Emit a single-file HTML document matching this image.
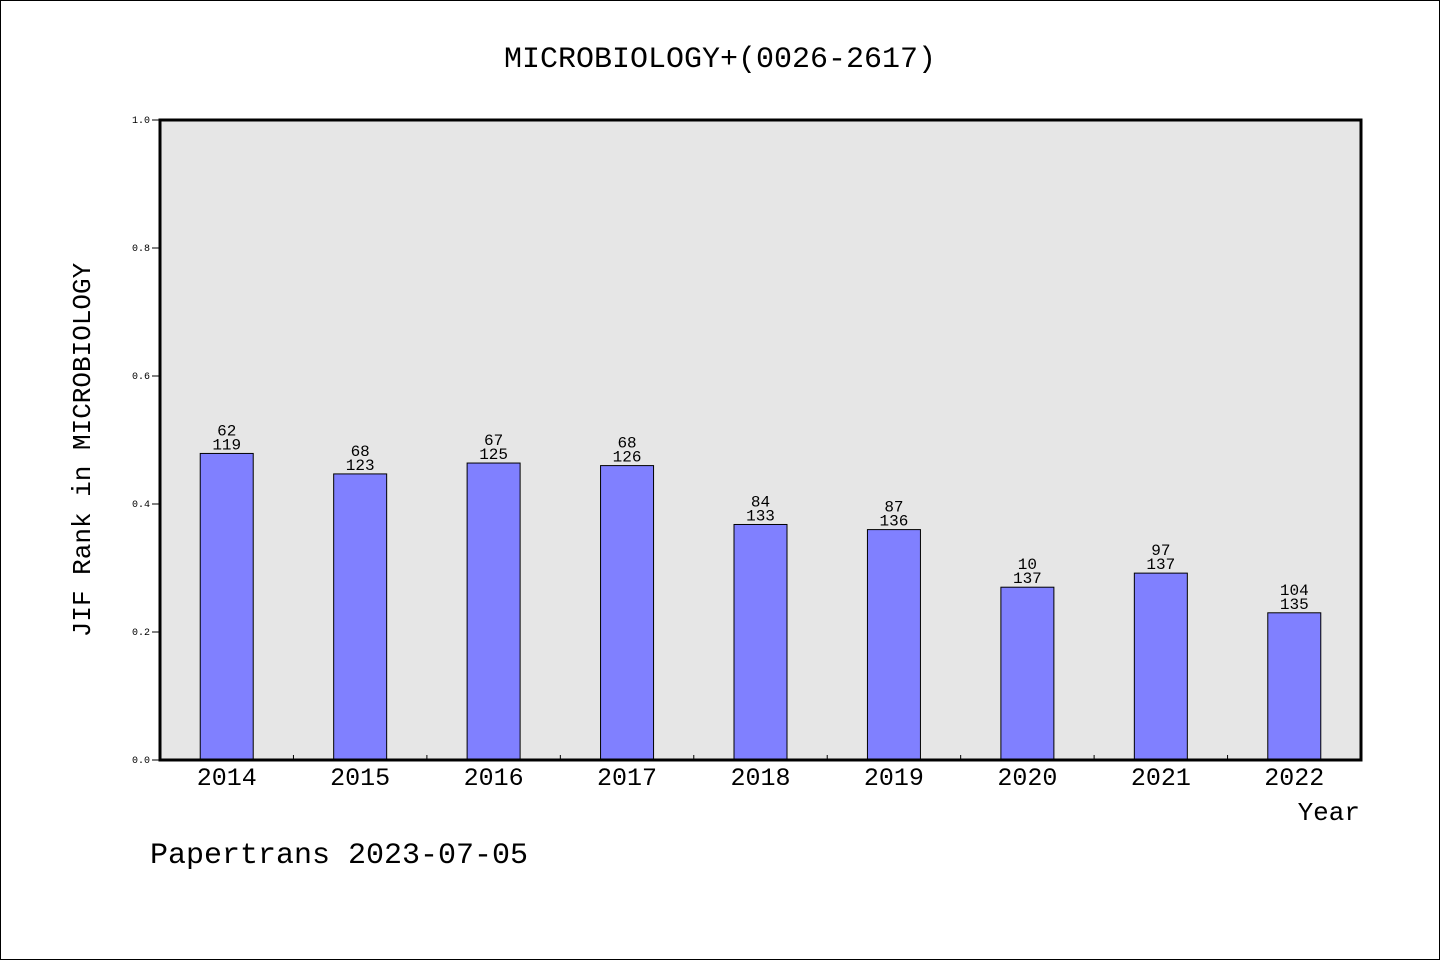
<!DOCTYPE html>
<html><head><meta charset="utf-8"><style>
html,body{margin:0;padding:0;background:#fff;}
svg{display:block;font-family:"WenQuanYi Zen Hei","Liberation Mono",monospace;}
</style></head><body>
<svg id="chart" width="1440" height="960">
<rect x="0.5" y="0.5" width="1439" height="959" fill="#fff" stroke="#000"/>
<text x="720" y="67" font-size="30" text-anchor="middle">MICROBIOLOGY+(0026-2617)</text>
<rect x="160" y="120" width="1201" height="640" fill="#e6e6e6"/>
<g id="bars"></g>
<rect x="160" y="120" width="1201" height="640" fill="none" stroke="#000" stroke-width="3"/>
<g id="axes"></g>
<text transform="translate(90,450) rotate(-90)" font-size="26" text-anchor="middle">JIF Rank in MICROBIOLOGY</text>
<text x="1360" y="820" font-size="26" text-anchor="end">Year</text>
<text x="150" y="863" font-size="30">Papertrans 2023-07-05</text>
</svg>
<script>
const years=["2014","2015","2016","2017","2018","2019","2020","2021","2022"];
const values=[0.479,0.447,0.464,0.460,0.368,0.360,0.270,0.292,0.230];
const ranks=["62","68","67","68","84","87","10","97","104"];
const totals=["119","123","125","126","133","136","137","137","135"];
const yTicks=["0.0","0.2","0.4","0.6","0.8","1.0"];
const NS="http://www.w3.org/2000/svg";
const X0=160,X1=1361,Y0=760,Y1=120;
const band=(X1-X0)/years.length;
const xc=i=>X0+band*(i+0.5);
const ys=v=>Y0-(Y0-Y1)*v;
function mk(tag,attrs,parent,text){const e=document.createElementNS(NS,tag);for(const k in attrs)e.setAttribute(k,attrs[k]);if(text!==undefined)e.textContent=text;parent.appendChild(e);return e;}
const bars=document.getElementById('bars'),axes=document.getElementById('axes');
years.forEach((y,i)=>{
  const b=mk('rect',{x:xc(i)-26.5,y:ys(values[i]),width:53,height:Y0-ys(values[i]),fill:'#8080ff',stroke:'#000','stroke-width':1},bars);
  
  
  const t1=mk('text',{x:xc(i),y:ys(values[i])-18,'font-size':16,'text-anchor':'middle'},bars,ranks[i]);
  
  
  const t2=mk('text',{x:xc(i),y:ys(values[i])-4,'font-size':16,'text-anchor':'middle'},bars,totals[i]);
  
  
  const xl=mk('text',{x:xc(i),y:785,'font-size':25,'text-anchor':'middle'},axes,y);
  
  
  if(i>0){const tk=mk('line',{x1:X0+band*i,x2:X0+band*i,y1:Y0,y2:Y0-5,stroke:'#000'},axes);
  
  }
});
yTicks.forEach(l=>{
  const v=parseFloat(l);
  const tk=mk('line',{x1:X0-8,x2:X0,y1:ys(v),y2:ys(v),stroke:'#000'},axes);
  
  
  const t=mk('text',{x:X0-10,y:ys(v)+3,'font-size':10,'text-anchor':'end'},axes,l);
  
  
});
</script>
</body></html>
